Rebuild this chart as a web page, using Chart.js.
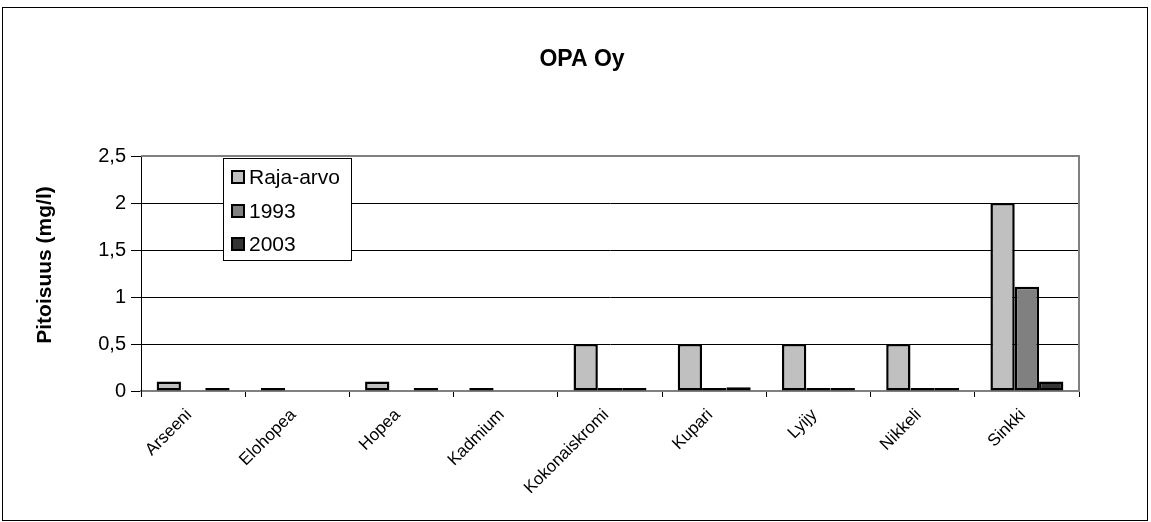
<!DOCTYPE html>
<html>
<head>
<meta charset="utf-8">
<script src="https://cdn.jsdelivr.net/npm/chart.js@4/dist/chart.umd.min.js"></script>
<style>
html,body{margin:0;padding:0;background:#fff;}
canvas{display:block;}
</style>
</head>
<body>
<canvas id="c" width="1151" height="522"></canvas>
<script>
const chartTitle = 'OPA Oy';
const yAxisTitle = 'Pitoisuus (mg/l)';
const categories = ['Arseeni','Elohopea','Hopea','Kadmium','Kokonaiskromi','Kupari','Lyijy','Nikkeli','Sinkki'];
const seriesNames = ['Raja-arvo','1993','2003'];
const rajaArvo = [0.1, 0.005, 0.1, 0.005, 0.5, 0.5, 0.5, 0.5, 2];
const v1993 = [null, null, null, null, 0.02, 0.01, 0.005, 0.005, 1.11];
const v2003 = [0.005, null, 0.005, null, 0.03, 0.04, 0.008, 0.01, 0.1];
const yTickValues = [0, 0.5, 1, 1.5, 2, 2.5];
const yTickLabels = ['0', '0,5', '1', '1,5', '2', '2,5'];
const seriesColors = ['#C0C0C0', '#808080', '#333333'];

const FONT = '"Liberation Sans", Arial, sans-serif';

const framePlugin = {
  id: 'frame',
  beforeDraw(chart) {
    const ctx = chart.ctx;
    ctx.save();
    ctx.fillStyle = '#fff';
    ctx.fillRect(0, 0, chart.width, chart.height);
    ctx.strokeStyle = '#000';
    ctx.lineWidth = 1;
    ctx.strokeRect(2.5, 7.5, 1145, 513);
    ctx.restore();
  },
  beforeDatasetsDraw(chart) {
    const a = chart.chartArea, ctx = chart.ctx;
    ctx.save();
    ctx.strokeStyle = '#808080';
    ctx.lineWidth = 2;
    ctx.beginPath();
    ctx.moveTo(a.left, a.top);
    ctx.lineTo(a.right, a.top);
    ctx.lineTo(a.right, a.bottom);
    ctx.stroke();
    ctx.restore();
  },
  afterDraw(chart) {
    const ctx = chart.ctx;
    ctx.save();
    ctx.fillStyle = '#000';
    ctx.font = 'bold 23px ' + FONT;
    ctx.textAlign = 'center';
    ctx.textBaseline = 'middle';
    ctx.fillText(chartTitle, 582, 60);
    ctx.save();
    ctx.translate(45, 265);
    ctx.rotate(-Math.PI / 2);
    ctx.font = 'bold 21px ' + FONT;
    ctx.fillText(yAxisTitle, 0, 0);
    ctx.restore();
    ctx.fillStyle = '#fff';
    ctx.fillRect(223.5, 158.5, 128, 102);
    ctx.strokeStyle = '#000';
    ctx.lineWidth = 1;
    ctx.strokeRect(223.5, 158.5, 128, 102);
    const rows = [177, 211, 244];
    chart.data.datasets.forEach((ds, i) => {
      const cy = rows[i];
      ctx.fillStyle = ds.backgroundColor;
      ctx.fillRect(232, cy - 6, 12, 12);
      ctx.lineWidth = 2;
      ctx.strokeStyle = '#000';
      ctx.strokeRect(232, cy - 6, 12, 12);
      ctx.fillStyle = '#000';
      ctx.font = '21px ' + FONT;
      ctx.textAlign = 'left';
      ctx.textBaseline = 'middle';
      ctx.fillText(ds.label, 249, cy + 1);
    });
    ctx.restore();
  }
};

const dataArrays = [rajaArvo, v1993, v2003];
new Chart(document.getElementById('c'), {
  type: 'bar',
  data: {
    labels: categories,
    datasets: seriesNames.map((n, i) => ({
      label: n,
      data: dataArrays[i],
      backgroundColor: seriesColors[i],
      borderColor: '#000',
      borderWidth: 2.5,
      borderSkipped: false,
      minBarLength: 3,
      barPercentage: 1,
      categoryPercentage: 0.7
    }))
  },
  options: {
    responsive: false,
    animation: false,
    devicePixelRatio: 1,
    layout: { padding: { top: 156, right: 72, left: 0, bottom: 0 } },
    plugins: { legend: { display: false }, title: { display: false }, tooltip: { enabled: false } },
    scales: {
      x: {
        offset: true,
        grid: { display: true, drawOnChartArea: false, drawTicks: true, tickLength: 6, color: '#000', offset: true },
        border: { display: true, color: '#808080', width: 2 },
        ticks: { maxRotation: 45, minRotation: 45, autoSkip: false, color: '#000', font: { family: FONT, size: 17 }, padding: 8, labelOffset: -4 },
        afterFit(scale) { scale.height = 131; }
      },
      y: {
        min: 0, max: 2.5,
        afterBuildTicks(scale) { scale.ticks = yTickValues.map(v => ({ value: v })); },
        grid: {
          color: (c) => (c.tick && c.tick.value === 2.5) ? '#808080' : '#000',
          lineWidth: 1, drawTicks: true, tickLength: 10, tickColor: '#000'
        },
        border: { display: true, color: '#000', width: 1 },
        ticks: {
          color: '#000', font: { family: FONT, size: 20 }, padding: 5,
          callback: (v) => { const i = yTickValues.indexOf(v); return i >= 0 ? yTickLabels[i] : ''; }
        },
        title: { display: false },
        afterFit(scale) { scale.width = 141; }
      }
    }
  },
  plugins: [framePlugin]
});
</script>
</body>
</html>
